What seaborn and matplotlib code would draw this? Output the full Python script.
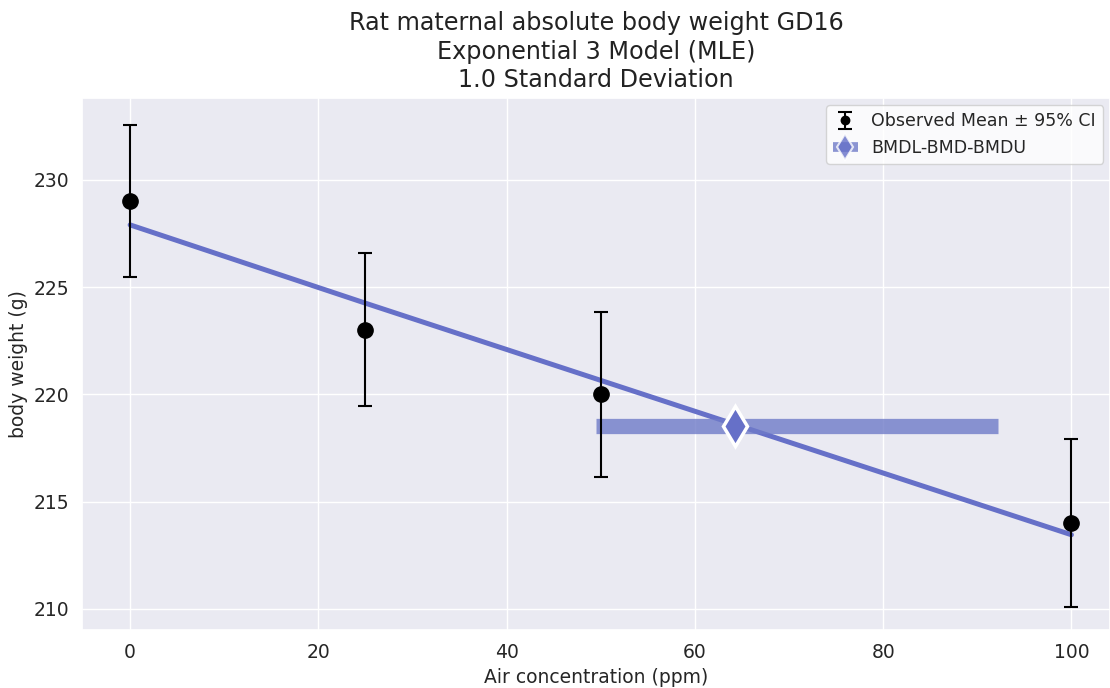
import numpy as np
import matplotlib
matplotlib.use("Agg")
import matplotlib.pyplot as plt
import seaborn as sns

# observed data
doses = [0, 25, 50, 100]
means = [229.0, 223.0, 220.0, 214.0]
ci_low = [225.45, 219.45, 216.15, 210.1]
ci_high = [232.55, 226.6, 223.85, 217.9]

# fitted model curve
model_x = [0, 25, 50, 75, 100]
model_y = [227.9, 224.25, 220.65, 217.05, 213.45]

# BMD summary
bmdl = 49.5
bmd = 64.3
bmdu = 92.2
bmd_response = 218.5

sns.set_theme(style="darkgrid")
plt.rcParams['font.family'] = ['DejaVu Sans']

fig, ax = plt.subplots(figsize=(11.1, 6.88), dpi=100)

blue = "#6670c8"

sns.lineplot(x=model_x, y=model_y, color=blue, linewidth=3.6, ax=ax, zorder=2)

yerr = [np.array(means) - np.array(ci_low), np.array(ci_high) - np.array(means)]
obs = ax.errorbar(doses, means, yerr=yerr, fmt="o", color="black", markersize=11,
                  ecolor="black", elinewidth=1.5, capsize=5, capthick=1.5, zorder=4,
                  label="Observed Mean \u00b1 95% CI")

ax.plot([bmdl, bmdu], [bmd_response, bmd_response], color="#6f7bc8", alpha=0.8,
        linewidth=11, solid_capstyle="butt", zorder=3)
ax.plot([bmd], [bmd_response], marker="d", markersize=20, color=blue,
        markeredgecolor="white", markeredgewidth=2.5, linestyle="none", zorder=5)
# legend proxy
bmd_proxy, = ax.plot([], [], color="#6f7bc8", alpha=0.8, linewidth=7, marker="d",
                     markersize=24, markerfacecolor=blue, markeredgecolor="white",
                     markeredgewidth=1.5, solid_capstyle="butt", label="BMDL-BMD-BMDU")

ax.set_xlim(-5.1, 104.1)
ax.set_ylim(209.0, 233.8)
ax.set_xticks([0, 20, 40, 60, 80, 100])
ax.set_yticks([210, 215, 220, 225, 230])
ax.tick_params(labelsize=13.5)

ax.set_xlabel("Air concentration (ppm)", fontsize=13.5)
ax.set_ylabel("body weight (g)", fontsize=13.5)
ax.set_title("Rat maternal absolute body weight GD16\nExponential 3 Model (MLE)\n1.0 Standard Deviation",
             fontsize=17.2, linespacing=1.25, color="#222222", pad=8)

ax.legend(handles=[obs, bmd_proxy], loc="upper right", fontsize=12.5, frameon=True,
          facecolor="white", handlelength=1.4, borderaxespad=0.4, markerscale=0.55)

plt.subplots_adjust(left=0.074, right=1.0, top=0.857, bottom=0.084)
plt.savefig("out.png", dpi=100)
